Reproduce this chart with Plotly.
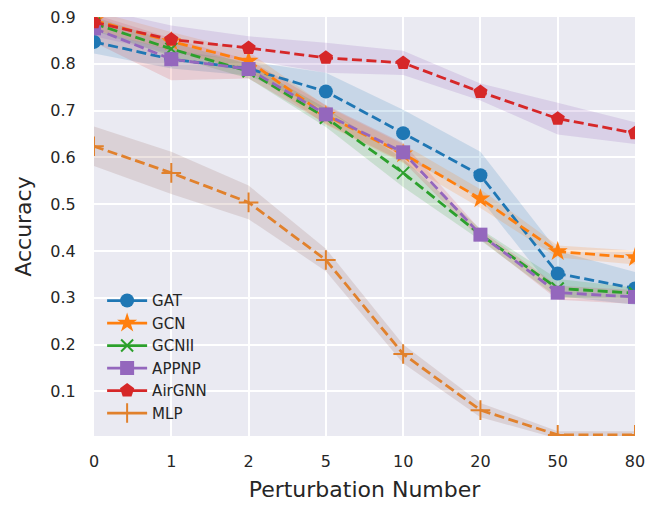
import plotly.graph_objects as go

x_labels = ["0", "1", "2", "5", "10", "20", "50", "80"]

names = ["GAT", "GCN", "GCNII", "APPNP", "AirGNN", "MLP"]
GAT = [0.847, 0.81, 0.79, 0.741, 0.652, 0.562, 0.352, 0.320]
GAT_std = [0.025, 0.02, 0.015, 0.04, 0.05, 0.05, 0.048, 0.035]
GCN = [0.893, 0.848, 0.806, 0.690, 0.608, 0.512, 0.399, 0.386]
GCN_std = [0.02, 0.02, 0.02, 0.02, 0.02, 0.02, 0.013, 0.015]
GCNII = [0.886, 0.832, 0.784, 0.685, 0.567, 0.435, 0.320, 0.310]
GCNII_std = [0.015, 0.015, 0.015, 0.02, 0.03, 0.012, 0.02, 0.012]
APPNP = [0.876, 0.810, 0.789, 0.692, 0.611, 0.435, 0.311, 0.302]
APPNP_std = [0.03, 0.045, 0.02, 0.02, 0.02, 0.01, 0.015, 0.015]
AirGNN = [0.889, 0.852, 0.834, 0.813, 0.802, 0.740, 0.683, 0.652]
AirGNN_std = [0.03, 0.03, 0.025, 0.032, 0.026, 0.018, 0.034, 0.023]
MLP = [0.624, 0.567, 0.504, 0.381, 0.180, 0.060, 0.007, 0.007]
MLP_std = [0.042, 0.045, 0.036, 0.024, 0.02, 0.015, 0.008, 0.008]

means = [GAT, GCN, GCNII, APPNP, AirGNN, MLP]
stds = [GAT_std, GCN_std, GCNII_std, APPNP_std, AirGNN_std, MLP_std]
line_colors = ["#1f77b4", "#ff7f0e", "#2ca02c", "#9467bd", "#d62728", "#e1812c"]
band_colors = ["rgba(31,119,180,0.17)", "rgba(255,127,14,0.17)", "rgba(44,160,44,0.17)",
               "rgba(214,39,40,0.15)", "rgba(148,103,189,0.2)", "rgba(140,86,75,0.17)"]
symbols = ["circle", "star", "x-thin", "square", "pentagon", "cross-thin"]
sizes = [14, 15, 12, 14, 15, 14]

fig = go.Figure()

for m, s, bc in zip(means, stds, band_colors):
    upper = [a + b for a, b in zip(m, s)]
    lower = [a - b for a, b in zip(m, s)]
    fig.add_trace(go.Scatter(x=x_labels, y=upper, mode="lines", line=dict(width=0),
                             showlegend=False, hoverinfo="skip"))
    fig.add_trace(go.Scatter(x=x_labels, y=lower, mode="lines", line=dict(width=0),
                             fill="tonexty", fillcolor=bc, showlegend=False, hoverinfo="skip"))

def marker_for(i):
    if symbols[i] in ("x-thin", "cross-thin"):
        return dict(symbol=symbols[i], size=sizes[i], color=line_colors[i],
                    line=dict(width=2, color=line_colors[i]))
    return dict(symbol=symbols[i], size=sizes[i], color=line_colors[i], line=dict(width=0))

for i, (n, m) in enumerate(zip(names, means)):
    fig.add_trace(go.Scatter(x=x_labels, y=m, mode="lines+markers", name=n,
                             line=dict(color=line_colors[i], width=2.8, dash="10px,4.5px"),
                             marker=marker_for(i), showlegend=False))

for i, n in enumerate(names):
    fig.add_trace(go.Scatter(x=[None], y=[None], mode="lines+markers", name=n,
                             line=dict(color=line_colors[i], width=2.8),
                             marker=marker_for(i), showlegend=True))

fig.update_layout(
    width=649, height=509,
    margin=dict(l=94, r=14, t=17, b=73),
    paper_bgcolor="white", plot_bgcolor="#eaeaf2",
    font=dict(family="DejaVu Sans", color="#262626", size=16),
    legend=dict(x=0.015, y=0.016, xanchor="left", yanchor="bottom", traceorder="normal",
                bgcolor="rgba(0,0,0,0)", font=dict(size=15), tracegroupgap=0,
                itemwidth=40),
    xaxis=dict(type="category", range=[0, 7], showgrid=True, gridcolor="white", gridwidth=1.5,
               zeroline=False, showline=False, ticks="outside", ticklen=11,
               tickcolor="rgba(0,0,0,0)", tickfont=dict(size=16), automargin=False,
               ticklabeloverflow="allow",
               title=dict(text="Perturbation Number", font=dict(size=22), standoff=11)),
    yaxis=dict(range=[0.0047, 0.9002], tickvals=[0.1, 0.2, 0.3, 0.4, 0.5, 0.6, 0.7, 0.8, 0.9],
               ticktext=["0.1", "0.2", "0.3", "0.4", "0.5", "0.6", "0.7", "0.8", "0.9"],
               showgrid=True, gridcolor="white", gridwidth=1.5, zeroline=False,
               showline=False, ticks="outside", ticklen=14, tickcolor="rgba(0,0,0,0)",
               tickfont=dict(size=16), automargin=False, ticklabeloverflow="allow",
               title=dict(text="Accuracy", font=dict(size=22), standoff=12)),
)

fig.write_html("out.html", config={"displayModeBar": False},
               post_script="document.body.style.margin='0';document.body.style.overflow='hidden';")
